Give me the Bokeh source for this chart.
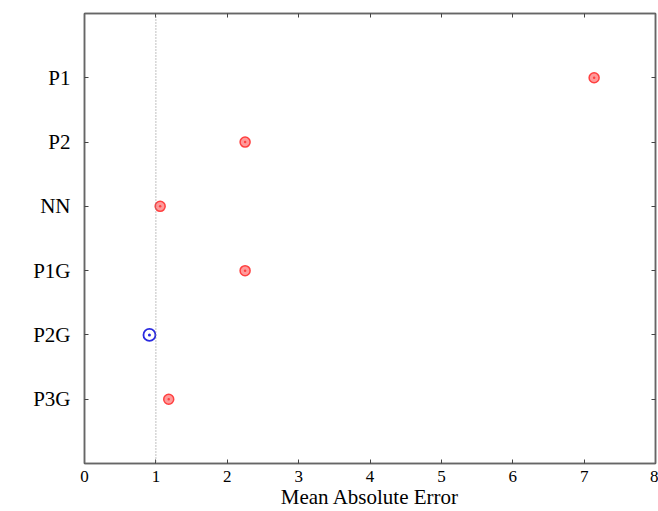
from bokeh.plotting import figure
from bokeh.models import Span, LinearAxis, FixedTicker, ColumnDataSource
from bokeh.embed import file_html
from bokeh.resources import INLINE

models = ["P1", "P2", "NN", "P1G", "P2G", "P3G"]
mae = [7.14, 2.25, 1.06, 2.25, 0.91, 1.18]
best = ["P2G"]
x_ticks = [0, 1, 2, 3, 4, 5, 6, 7, 8]
x_label = "Mean Absolute Error"
baseline = 1.0

n = len(models)
ypos = [n - i for i in range(n)]

red = dict(x=[], y=[])
blue = dict(x=[], y=[])
for m, v, yy in zip(models, mae, ypos):
    d = blue if m in best else red
    d["x"].append(v)
    d["y"].append(yy)

FONT = "Liberation Serif"
p = figure(width=658, height=511, x_range=(0, 8), y_range=(0, n + 1),
           output_backend="svg", toolbar_location=None,
           min_border_left=84, min_border_right=3, min_border_top=13, min_border_bottom=44)
p.grid.visible = False
p.outline_line_color = "#666666"
p.outline_line_width = 1.5
p.background_fill_color = "white"
p.border_fill_color = "white"

ylab = {yy: m for m, yy in zip(models, ypos)}

for ax in [p.xaxis[0], p.yaxis[0]]:
    ax.axis_line_color = "#666666"
    ax.axis_line_width = 1.5
    ax.major_tick_in = 4
    ax.major_tick_out = 0
    ax.minor_tick_line_color = None
    ax.major_tick_line_color = "#444444"
    ax.major_label_text_font = FONT
    ax.major_label_text_color = "black"

p.xaxis[0].ticker = FixedTicker(ticks=x_ticks)
p.xaxis[0].major_label_text_font_size = "17px"
p.xaxis[0].axis_label = x_label
p.xaxis[0].axis_label_text_font = FONT
p.xaxis[0].axis_label_text_font_size = "21px"
p.xaxis[0].axis_label_text_font_style = "normal"
p.xaxis[0].axis_label_text_color = "black"
p.xaxis[0].axis_label_standoff = 0
p.xaxis[0].major_label_standoff = 7

p.yaxis[0].ticker = FixedTicker(ticks=ypos)
p.yaxis[0].major_label_overrides = {k: v for k, v in ylab.items()}
p.yaxis[0].major_label_text_font_size = "21px"
p.yaxis[0].major_label_standoff = 14

top = LinearAxis(ticker=FixedTicker(ticks=x_ticks))
right = LinearAxis(ticker=FixedTicker(ticks=ypos))
for ax in (top, right):
    ax.major_tick_in = 4
    ax.major_tick_out = 0
    ax.minor_tick_line_color = None
    ax.major_label_text_font_size = "0px"
    ax.major_label_text_alpha = 0
    ax.axis_line_color = "#666666"
    ax.axis_line_width = 1.5
    ax.major_tick_line_color = "#444444"
p.add_layout(top, "above")
p.add_layout(right, "right")

p.add_layout(Span(location=baseline, dimension="height", line_color="#808080",
                  line_dash="1 2", line_width=1))

p.scatter("x", "y", source=ColumnDataSource(red), marker="circle_dot", size=10,
          fill_color="#ff9a9a", line_color="#ff4040", line_width=1.5)
p.scatter("x", "y", source=ColumnDataSource(blue), marker="circle_dot", size=12,
          fill_color=None, line_color="#2a2ae0", line_width=1.8)

open("out.html", "w").write(file_html(p, INLINE))
